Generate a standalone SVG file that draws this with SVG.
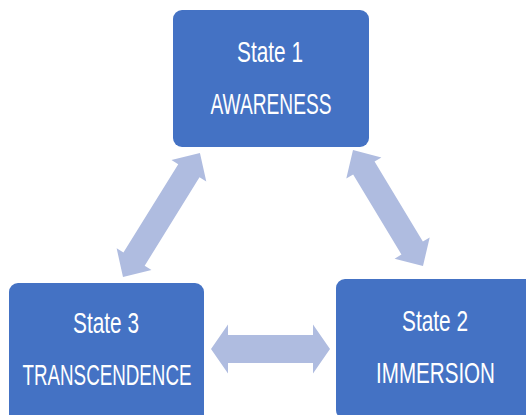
<svg xmlns="http://www.w3.org/2000/svg" width="526" height="415" viewBox="0 0 526 415">
<style>
.box{fill:#4472C4;}
.arr{fill:#AFBCE0;}
.t{fill:#FFFFFF;font-family:"Liberation Sans",Arial,sans-serif;font-size:29px;text-anchor:middle;}
</style>
<rect width="526" height="415" fill="#FFFFFF"/>
<g id="connectors">
<path class="arr" transform="translate(211,349)" d="M0,0 L17,-24.5 L17,-14 L102,-14 L102,-24.5 L119,0 L102,24.5 L102,14 L17,14 L17,24.5 Z"/>
<path class="arr" transform="translate(123,277) rotate(-58.2)" d="M0,0 L21,-20.5 L21,-12.5 L125,-12.5 L125,-20.5 L146,0 L125,20.5 L125,12.5 L21,12.5 L21,20.5 Z"/>
<path class="arr" transform="translate(353,150) rotate(58.9)" d="M0,0 L21,-20.5 L21,-12.5 L114.5,-12.5 L114.5,-20.5 L135.5,0 L114.5,20.5 L114.5,12.5 L21,12.5 L21,20.5 Z"/>
</g>
<g id="state1">
<rect class="box" x="173" y="10" width="196" height="137" rx="9"/>
<text class="t" x="270" y="62" textLength="66" lengthAdjust="spacingAndGlyphs">State 1</text>
<text class="t" x="271" y="114" textLength="121" lengthAdjust="spacingAndGlyphs">AWARENESS</text>
</g>
<g id="state3">
<rect class="box" x="9" y="283" width="195" height="140" rx="9"/>
<text class="t" x="106" y="333" textLength="66" lengthAdjust="spacingAndGlyphs">State 3</text>
<text class="t" x="107" y="385" textLength="169" lengthAdjust="spacingAndGlyphs">TRANSCENDENCE</text>
</g>
<g id="state2">
<rect class="box" x="336" y="279" width="198" height="140" rx="9"/>
<text class="t" x="435" y="331" textLength="66" lengthAdjust="spacingAndGlyphs">State 2</text>
<text class="t" x="435.5" y="383" textLength="119" lengthAdjust="spacingAndGlyphs">IMMERSION</text>
</g>
</svg>
